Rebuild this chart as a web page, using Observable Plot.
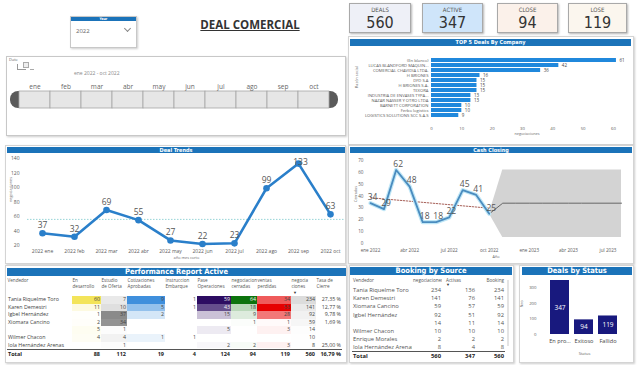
<!DOCTYPE html>
<html><head><meta charset="utf-8">
<script src="https://cdn.jsdelivr.net/npm/d3@7"></script>
<script src="https://cdn.jsdelivr.net/npm/@observablehq/plot@0.6"></script>
<style>
html,body{margin:0;padding:0;background:#fff;width:640px;height:365px;overflow:hidden;font-family:"Open Sans",sans-serif;color:#444;}
.abs{position:absolute;}
.panel{position:absolute;border:1px solid #d4d4d4;box-shadow:1px 1px 2px rgba(0,0,0,0.2);background:#fff;box-sizing:border-box;}
.hdr{position:absolute;background:#1b73b9;color:#fff;font-weight:bold;text-align:center;font-family:"DejaVu Sans Condensed","Roboto",sans-serif;white-space:nowrap;overflow:hidden;}
.card{position:absolute;border:1px solid #a9a9a9;box-shadow:1px 1px 2px rgba(0,0,0,0.3);box-sizing:border-box;text-align:center;font-family:"DejaVu Sans Condensed","Roboto",sans-serif;}
.card .lbl{font-size:6px;color:#555;margin-top:2px;}
.card .val{font-size:16px;color:#333;line-height:18px;margin-top:1px;}
.row{position:absolute;display:grid;white-space:nowrap;}
.row div{overflow:hidden;padding:0 1px;box-sizing:border-box;}
.num{text-align:right;}
svg{overflow:visible;}
</style></head>
<body>
<div id="root"></div>
<script>
// ---------- DATA ----------
const kpiLabels = ["DEALS","ACTIVE","CLOSE","LOSE"];
const kpiValues = [560,347,94,119];

const sliderMonths = ["ene","feb","mar","abr","may","jun","jul","ago","sep","oct"];

const companies = ["(En blanco)","LUCAS BLANDFORD MAQUIN...","COMERCIAL CHAVIDIA LTDA.","H BRIONES","DFD S.A","H BRIONES S.A.","TEXORA","INDUSTRIA DE ENVASES TYPA...","NAZAR NASSER Y OTRO LTDA","BARNETT CORPORATION","Ferbo logistics","LOGISTICS SOLUTIONS SCC S.A.S"];
const companyDeals = [61,42,36,16,15,15,15,13,13,10,10,9];
const companyTicks = [0,10,20,30,40,50,60];

const trendMonths = ["2022 ene","2022 feb","2022 mar","2022 abr","2022 may","2022 jun","2022 jul","2022 ago","2022 sep","2022 oct"];
const trendDeals = [37,32,69,55,27,22,23,99,133,63];
const trendTicks = [20,40,60,80,100,120,140];

const monthAbbr = ["ene","feb","mar","abr","may","jun","jul","ago","sep","oct","nov","dic"];
const cashMonths = ["2022-01","2022-02","2022-03","2022-04","2022-05","2022-06","2022-07","2022-08","2022-09","2022-10"];
const cashValues = [34,29,62,48,18,18,22,45,41,25];
const forecastMonths = ["2022-10","2022-11","2022-12","2023-01","2023-02","2023-03","2023-04","2023-05","2023-06","2023-07","2023-08"];
const forecastMid = [25,34,34,34,34,34,34,34,34,34,34];
const forecastLow = [25,5,5,5,5,5,5,5,5,5,5];
const forecastHigh = [25,62,62,62,62,62,62,62,62,62,62];
const cashDomain = ["2022-01","2023-08"];
const cashYTicks = [0,10,20,30,40,50,60,70];

const statusLabels = ["En pro...","Exitoso","Fallido"];
const statusValues = [347,94,119];
const statusTicks = [0,100,200,300];

const perfHeaders = ["Vendedor","En<br>desarrollo","Estudio<br>de Oferta","Cotizaciones<br>Aprobadas","Instruccion<br>Embarque","Pase<br>Operaciones","negociacion<br>cerradas","ventas<br>perdidas","negocia<br>ciones","Tasa de<br>Cierre"];
const perfVendors = ["Tania Riquelme Toro","Karen Demestri","Igbel Hernández","Xiomara Cancino","","Wilmer Chacon","Iola Hernández Arenas"];
const enDesarrollo = [60,11,1,2,5,4,null];
const estudioOferta = [7,10,37,34,1,4,1];
const cotizAprobadas = [9,5,2,null,null,1,null];
const instrEmbarque = [1,1,null,null,null,1,null];
const paseOperaciones = [59,43,15,null,5,null,2];
const negCerradas = [64,18,9,1,null,null,2];
const ventasPerdidas = [34,53,28,1,3,null,3];
const negociaciones = [234,141,92,59,14,10,8];
const tasaCierre = ["27,35 %","12,77 %","9,78 %","1,69 %","","","25,00 %"];
const perfTotals = ["Total",88,112,19,4,124,94,119,560,"16,79 %"];

const bookHeaders = ["Vendedor","negociaciones","Activas","Booking"];
const bookVendors = ["Tania Riquelme Toro","Karen Demestri","Xiomara Cancino","Igbel Hernández","","Wilmer Chacon","Enrique Morales","Iola Hernández Arenas"];
const bookNeg = [234,141,59,92,14,10,2,8];
const bookActivas = [136,76,57,51,11,10,2,4];
const bookBooking = [234,141,59,92,14,10,2,8];
const bookTotals = ["Total",560,347,560];

// ---------- helpers ----------
const root = document.getElementById("root");
function el(tag, cls, style, html){const e=document.createElement(tag); if(cls) e.className=cls; if(style) e.setAttribute("style",style); if(html!=null) e.innerHTML=html; root.appendChild(e); return e;}
function place(node, left, top){const d=el("div","abs",`left:${left}px;top:${top}px;`); d.appendChild(node); return d;}
const tinyFont = "Open Sans";
const axisFill = "#5a5a5a";

// ---------- header area ----------
el("div","panel","left:70px;top:16px;width:67px;height:32px;border-color:#c8c8c8;");
el("div","hdr","left:71px;top:17px;width:65px;height:4px;font-size:3.5px;line-height:4px;","Year");
el("div","abs","left:76px;top:27px;font-size:6px;color:#666;","2022");
el("div","abs","left:125px;top:26px;width:4px;height:4px;border-right:1px solid #888;border-bottom:1px solid #888;transform:rotate(45deg);");
el("div","abs","left:190px;top:17px;width:120px;text-align:center;font-size:11.5px;font-weight:bold;color:#333;text-decoration:underline;","DEAL COMERCIAL");
const cardPos = [[349,62,"#eef0f7"],[422,61,"#cfe5fa"],[497,61,"#fbf1ea"],[568,59,"#fbf6ee"]];
kpiLabels.forEach((l,i)=>{
  const c = el("div","card",`left:${cardPos[i][0]}px;top:3px;width:${cardPos[i][1]}px;height:30px;background:${cardPos[i][2]};`);
  c.innerHTML = `<div class="lbl">${l}</div><div class="val">${kpiValues[i]}</div>`;
});

// ---------- Date slicer ----------
el("div","panel","left:6px;top:56px;width:340px;height:80px;border-color:#c8c8c8;");
el("div","abs","left:9px;top:57px;font-size:4px;color:#666;","Date");
el("div","abs","left:17px;top:64px;width:8px;height:5px;border-left:1px solid #999;border-bottom:1px solid #999;");
el("div","abs","left:23px;top:62px;width:4px;height:4px;border:1px solid #aaa;background:#eee;");
el("div","abs","left:30px;top:69px;width:4px;height:1px;background:#aaa;");
el("div","abs","left:74px;top:70px;font-size:5px;color:#888;","ene 2022 - oct 2022");
el("div","abs","left:10px;top:91px;width:10px;height:17px;border-radius:8px 0 0 8px;background:#5a5a5a;");
el("div","abs","left:327px;top:91px;width:11px;height:17px;border-radius:0 8px 8px 0;background:#5a5a5a;");
const slider = Plot.plot({
  width: 345, height: 28, marginLeft: 17, marginRight: 15, marginTop: 11, marginBottom: 0,
  style: {fontFamily: tinyFont, color: "#666", background: "transparent"},
  x: {domain: sliderMonths, padding: 0, label: null},
  marks: [
    Plot.cell(sliderMonths, {x: d => d, fill: "#e6e6e6", stroke: "#a5a5a5", strokeWidth: 0.8}),
    Plot.axisX({anchor: "top", tickSize: 0, tickPadding: 3, fontSize: 6.5, fill: "#666"})
  ]
});
place(slider, 0, 80);

// ---------- TOP 5 deals ----------
el("div","panel","left:348px;top:36px;width:286px;height:109px;");
el("div","hdr","left:350px;top:39px;width:281px;height:7px;font-size:5.5px;line-height:7px;","TOP 5 Deals By Company");
const topData = companies.map((c,i)=>({c, v: companyDeals[i]}));
const top5 = Plot.plot({
  width: 282, height: 97, marginLeft: 81, marginRight: 10, marginTop: 8, marginBottom: 22,
  style: {fontFamily: tinyFont, color: "#555", background: "transparent"},
  x: {domain: [0, 63], label: null},
  y: {domain: companies, padding: 0.2, label: null},
  marks: [
    Plot.barX(topData, {y: "c", x: "v", fill: "#2088dc"}),
    Plot.text(topData, {y: "c", x: "v", text: "v", textAnchor: "start", dx: 3, fill: "#444", fontSize: 4.5}),
    Plot.axisY({tickSize: 0, tickPadding: 3, fontSize: 4.2, fill: axisFill}),
    Plot.axisX({ticks: companyTicks, tickSize: 0, tickPadding: 5, fontSize: 4.3, fill: axisFill}),
    Plot.text(["negociaciones"], {frameAnchor: "bottom", dy: 13, fontSize: 3.8, fill: "#666"}),
    Plot.text(["Razón social"], {frameAnchor: "left", dx: -75, rotate: -90, fontSize: 3.8, fill: "#666"})
  ]
});
place(top5, 350, 46);

// ---------- Deal Trends ----------
el("div","panel","left:5px;top:145px;width:341px;height:119px;");
el("div","hdr","left:7px;top:147px;width:338px;height:6px;font-size:5.5px;line-height:6px;","Deal Trends");
const td = trendMonths.map((m,i)=>({m, v: trendDeals[i]}));
const tMax = d3.max(trendDeals);
const trends = Plot.plot({
  width: 340, height: 109, marginLeft: 22, marginRight: 0, marginTop: 5, marginBottom: 17,
  style: {fontFamily: tinyFont, color: "#555", background: "transparent"},
  x: {type: "point", domain: trendMonths, padding: 0.37, label: null},
  y: {domain: [20, 140], label: null},
  marks: [
    Plot.ruleY([d3.mean(trendDeals)], {stroke: "#8ccfd2", strokeDasharray: "1.5,1.5", strokeWidth: 0.9}),
    Plot.line(td, {x: "m", y: "v", stroke: "#2a7fca", strokeWidth: 2.6}),
    Plot.dot(td, {x: "m", y: "v", fill: "#2a7fca", r: 3.3}),
    Plot.text(td.filter(d => d.v !== tMax), {x: "m", y: "v", text: "v", dy: -8, fontSize: 8.5, fill: "#555"}),
    Plot.text(td.filter(d => d.v === tMax), {x: "m", y: "v", text: "v", dx: 2, dy: -1, fontSize: 8.5, fill: "#555"}),
    Plot.axisX({ticks: trendMonths, tickSize: 0, tickPadding: 4, fontSize: 5, fill: axisFill}),
    Plot.axisY({ticks: trendTicks, tickSize: 0, tickPadding: 8, fontSize: 5, fill: axisFill}),
    Plot.text(["año mes corto"], {frameAnchor: "bottom", dy: 13, fontSize: 3.8, fill: "#666"}),
    Plot.text(["negociaciones"], {frameAnchor: "left", dx: -17, rotate: -90, fontSize: 3.8, fill: "#666"})
  ]
});
place(trends, 5, 153);

// ---------- Cash Closing ----------
el("div","panel","left:348px;top:145px;width:286px;height:119px;");
el("div","hdr","left:350px;top:147px;width:282px;height:6px;font-size:5.5px;line-height:6px;","Cash Closing");
const parseM = d3.utcParse("%Y-%m");
const cd = cashMonths.map((m,i)=>({m: parseM(m), v: cashValues[i]}));
const fc = forecastMonths.map((m,i)=>({m: parseM(m), mid: forecastMid[i], lo: forecastLow[i], hi: forecastHigh[i]}));
const xStart = parseM(cashDomain[0]), xEnd = parseM(cashDomain[1]);
const cashTicks = d3.utcMonth.every(3).range(xStart, d3.utcDay.offset(xEnd, 1));
const cashFmt = d => monthAbbr[d.getUTCMonth()] + " " + d.getUTCFullYear();
const cash = Plot.plot({
  width: 282, height: 109, marginLeft: 20, marginRight: 11, marginTop: 7, marginBottom: 19,
  style: {fontFamily: tinyFont, color: "#555", background: "transparent"},
  x: {type: "utc", domain: [xStart, xEnd], label: null},
  y: {domain: [0, 70], label: null},
  marks: [
    Plot.areaY(fc, {x: "m", y1: "lo", y2: "hi", fill: "#d3d3d3"}),
    Plot.line(fc, {x: "m", y: "mid", stroke: "#666", strokeWidth: 1}),
    Plot.linearRegressionY(cd, {x: "m", y: "v", stroke: "#a8625a", strokeDasharray: "1.5,1.5", strokeWidth: 1, ci: 0}),
    Plot.line(cd, {x: "m", y: "v", stroke: "#bfe6f6", strokeWidth: 4.2}),
    Plot.line(cd, {x: "m", y: "v", stroke: "#4a8cbf", strokeWidth: 1.8}),
    Plot.text(cd, {x: "m", y: "v", text: "v", dy: -6, dx: 2, fontSize: 8.5, fill: "#555"}),
    Plot.axisX({ticks: cashTicks, tickFormat: cashFmt, tickSize: 0, tickPadding: 5, fontSize: 4.6, fill: axisFill}),
    Plot.axisY({ticks: cashYTicks, tickSize: 0, tickPadding: 7, fontSize: 4.6, fill: axisFill}),
    Plot.text(["Año"], {frameAnchor: "bottom", dy: 14, fontSize: 3.8, fill: "#666"}),
    Plot.text(["Cerradas"], {frameAnchor: "left", dx: -15, rotate: -90, fontSize: 3.8, fill: "#666"})
  ]
});
place(cash, 350, 153);

// ---------- Performance Report ----------
el("div","panel","left:5px;top:265px;width:342px;height:98px;");
el("div","hdr","left:7px;top:268px;width:339px;height:8px;font-size:7.5px;line-height:8px;","Performance Report Active");
const perfCols = "65px 29px 26px 38px 32px 34px 26px 34px 25px 26px";
const perfCells = [enDesarrollo, estudioOferta, cotizAprobadas, instrEmbarque, paseOperaciones, negCerradas, ventasPerdidas, negociaciones];
const perfColor = ["#f3e45a","#8a8a8a","#3f8fdc","#ffffff","#2d0d62","#0d730d","#e60000","#dcdcdc"];
{
  const h = el("div","row",`left:7px;top:277px;grid-template-columns:${perfCols};font-size:4.6px;line-height:6.2px;color:#555;`);
  h.innerHTML = perfHeaders.map(t=>`<div style="padding:0 0.5px;">${t}</div>`).join("");
  el("div","abs","left:293px;top:290px;font-size:4px;color:#333;","▼");
  const clip = el("div","abs","left:7px;top:296px;width:336px;height:52px;overflow:hidden;");
  perfVendors.forEach((v,i)=>{
    const r = document.createElement("div");
    r.className = "row";
    r.setAttribute("style",`left:0;top:${i*7.6}px;height:7.6px;grid-template-columns:${perfCols};font-size:5.3px;line-height:7.6px;color:#444;`);
    let html = `<div>${v}</div>`;
    perfCells.forEach((arr,j)=>{
      const val = arr[i];
      const mx = d3.max(arr);
      let bg = "transparent", fg = "#444";
      if (val != null && perfColor[j] !== "#ffffff") {
        const c = d3.interpolateRgb("#ffffff", perfColor[j])(val / mx);
        bg = c; if (d3.hsl(c).l < 0.45) fg = "#f4f4f4";
      }
      html += `<div class="num" style="background:${bg};color:${fg};">${val==null?"":val}</div>`;
    });
    html += `<div class="num">${tasaCierre[i]}</div>`;
    r.innerHTML = html;
    clip.appendChild(r);
  });
  const t = el("div","row",`left:7px;top:349px;height:8px;width:335px;grid-template-columns:${perfCols};font-size:5.5px;line-height:8px;font-weight:bold;color:#222;border-top:1px solid #555;`);
  t.innerHTML = perfTotals.map((x,i)=>`<div class="${i?"num":""}">${x}</div>`).join("");
}

// ---------- Booking by Source ----------
el("div","panel","left:349px;top:265px;width:165px;height:98px;");
el("div","hdr","left:350px;top:267px;width:162px;height:8px;font-size:7.5px;line-height:8px;","Booking by Source");
const bookCols = "60px 30px 34px 29px";
{
  const h = el("div","row",`left:352px;top:277px;grid-template-columns:${bookCols};font-size:4.6px;line-height:6px;color:#555;`);
  h.innerHTML = bookHeaders.map((t,i)=>`<div style="text-align:${i===0||i===2?"left":"right"};padding-left:${i===2?"4px":"1px"}">${t}</div>`).join("");
  el("div","abs","left:446px;top:282px;font-size:4px;color:#333;","▼");
  const clip = el("div","abs","left:352px;top:286px;width:155px;height:63px;overflow:hidden;");
  bookVendors.forEach((v,i)=>{
    const r = document.createElement("div");
    r.className = "row";
    r.setAttribute("style",`left:0;top:${i*8.2}px;height:8.2px;grid-template-columns:${bookCols};font-size:5.8px;line-height:8.2px;color:#555;`);
    r.innerHTML = `<div>${v}</div><div class="num">${bookNeg[i]}</div><div class="num">${bookActivas[i]}</div><div class="num">${bookBooking[i]}</div>`;
    clip.appendChild(r);
  });
  const t = el("div","row",`left:352px;top:351px;height:9px;width:153px;grid-template-columns:${bookCols};font-size:5.8px;line-height:9px;font-weight:bold;color:#222;border-top:1px solid #555;`);
  t.innerHTML = bookTotals.map((x,i)=>`<div class="${i?"num":""}">${x}</div>`).join("");
  el("div","abs","left:507px;top:280px;width:2px;height:66px;background:#e4e4e4;");
}

// ---------- Deals by Status ----------
el("div","panel","left:519px;top:265px;width:115px;height:98px;");
el("div","hdr","left:522px;top:267px;width:110px;height:8px;font-size:7.5px;line-height:8px;","Deals by Status");
const sd = statusLabels.map((s,i)=>({s, v: statusValues[i]}));
const status = Plot.plot({
  width: 114, height: 86, marginLeft: 27, marginRight: 9, marginTop: 4, marginBottom: 28,
  style: {fontFamily: tinyFont, color: "#555", background: "transparent"},
  x: {domain: statusLabels, padding: 0.2, label: null},
  y: {domain: [0, 347], label: null},
  marks: [
    Plot.barY(sd, {x: "s", y: "v", fill: "#18197e"}),
    Plot.text(sd, {x: "s", y: d => d.v / 2, text: "v", fill: "#fff", fontSize: 6.5}),
    Plot.axisX({tickSize: 0, tickPadding: 5, fontSize: 5.6, fill: "#444"}),
    Plot.axisY({ticks: statusTicks, tickSize: 0, tickPadding: 9, fontSize: 4.3, fill: axisFill}),
    Plot.text(["Status"], {frameAnchor: "bottom", dy: 20, fontSize: 4, fill: "#666"}),
    Plot.text(["Nro"], {frameAnchor: "left", dx: -24, rotate: -90, fontSize: 4, fill: "#666"})
  ]
});
place(status, 518, 276);
</script>
</body></html>
